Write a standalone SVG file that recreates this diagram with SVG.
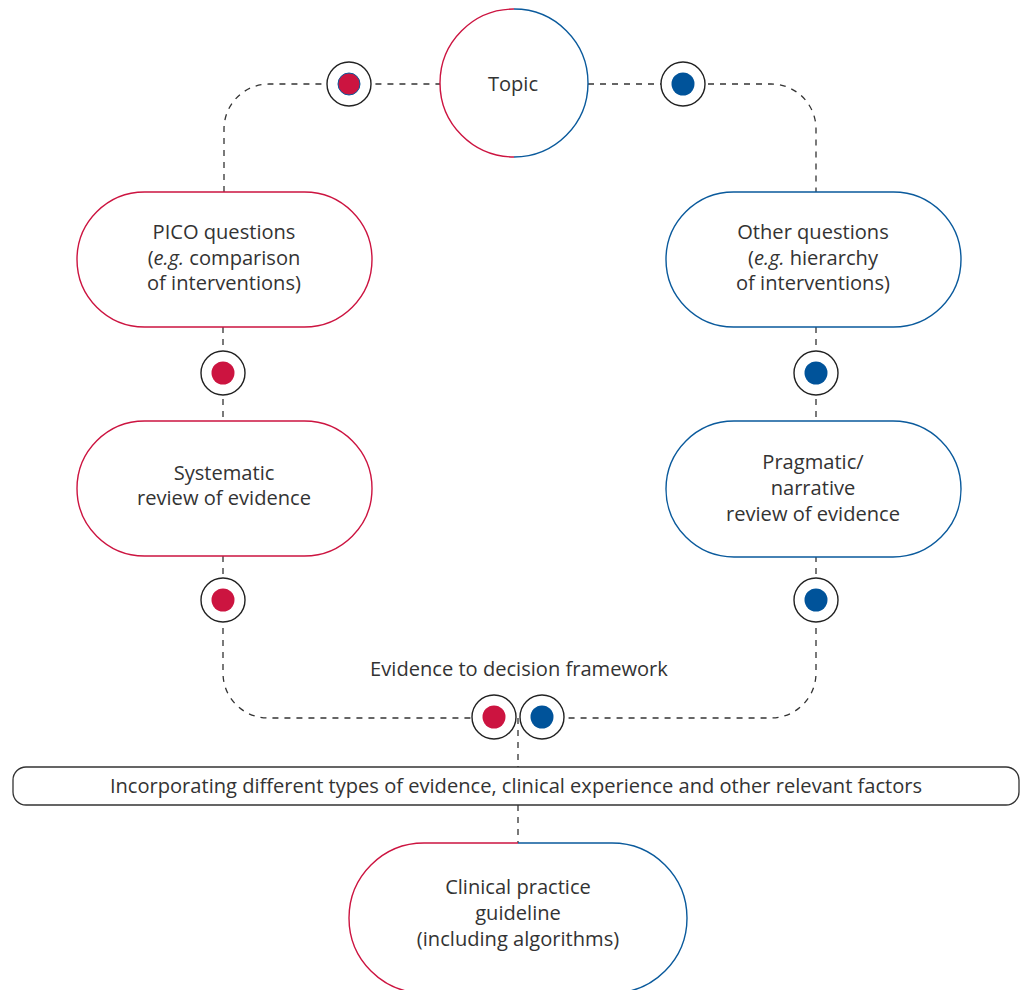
<svg xmlns="http://www.w3.org/2000/svg" width="1025" height="990" viewBox="0 0 1025 990">
<style>
.t{font-family:"Open Sans","Noto Sans","DejaVu Sans",sans-serif;font-size:20.1px;fill:#333;text-anchor:middle}
.dash{fill:none;stroke:#333;stroke-width:1.3;stroke-dasharray:6 6}
.red{fill:#fff;stroke:#cc1440;stroke-width:1.4}
.blue{fill:#fff;stroke:#0a5a9c;stroke-width:1.4}
.ring{fill:#fff;stroke:#222;stroke-width:1.4}
.dr{fill:#cc1440}
.db{fill:#00539a}
</style>
<rect width="1025" height="990" fill="#fff"/>
<g id="connectors">
<path class="dash" d="M224,192 V129 A45,45 0 0 1 269,84 H440"/>
<path class="dash" d="M588,84 H771 A45,45 0 0 1 816,129 V192"/>
<path class="dash" d="M223,327 V421"/>
<path class="dash" d="M816,327 V421"/>
<path class="dash" d="M223,556 V673 A45,45 0 0 0 268,718 H494"/>
<path class="dash" d="M816,556 V673 A45,45 0 0 1 771,718 H542"/>
<path class="dash" d="M518,718 V768"/>
<path class="dash" d="M518,805 V843"/>
</g>
<g id="topic">
<path d="M514,9 A74,74 0 0 0 514,157" fill="#fff" stroke="#cc1440" stroke-width="1.4"/>
<path d="M514,9 A74,74 0 0 1 514,157" fill="#fff" stroke="#0a5a9c" stroke-width="1.4"/>
<text class="t" x="513" y="91">Topic</text>
</g>
<g id="m1"><circle class="ring" cx="349" cy="84" r="22"/><circle class="dr" cx="349" cy="84" r="11" stroke="#0a5a9c" stroke-width="1"/></g>
<g id="m2"><circle class="ring" cx="683" cy="84" r="22"/><circle class="db" cx="683" cy="84" r="11.5"/></g>
<g id="pico">
<rect class="red" x="77" y="192" width="295" height="135" rx="67.5"/>
<text class="t" x="224" y="239">PICO questions</text>
<text class="t" x="224" y="265">(<tspan font-style="italic">e.g.</tspan> comparison</text>
<text class="t" x="224" y="290">of interventions)</text>
</g>
<g id="other">
<rect class="blue" x="666" y="192" width="295" height="135" rx="67.5"/>
<text class="t" x="813" y="239">Other questions</text>
<text class="t" x="813" y="265">(<tspan font-style="italic">e.g.</tspan> hierarchy</text>
<text class="t" x="813" y="290">of interventions)</text>
</g>
<g id="m3"><circle class="ring" cx="223" cy="373" r="22"/><circle class="dr" cx="223" cy="373" r="11.5"/></g>
<g id="m4"><circle class="ring" cx="816" cy="373" r="22"/><circle class="db" cx="816" cy="373" r="11.5"/></g>
<g id="systematic">
<rect class="red" x="77" y="421" width="295" height="135" rx="67.5"/>
<text class="t" x="224" y="480">Systematic</text>
<text class="t" x="224" y="505">review of evidence</text>
</g>
<g id="pragmatic">
<rect class="blue" x="666" y="421" width="295" height="136" rx="68"/>
<text class="t" x="813" y="469">Pragmatic/</text>
<text class="t" x="813" y="495">narrative</text>
<text class="t" x="813" y="521">review of evidence</text>
</g>
<g id="m5"><circle class="ring" cx="223" cy="600" r="22"/><circle class="dr" cx="223" cy="600" r="11.5"/></g>
<g id="m6"><circle class="ring" cx="816" cy="600" r="22"/><circle class="db" cx="816" cy="600" r="11.5"/></g>
<g id="etd-label"><text class="t" x="519" y="676">Evidence to decision framework</text></g>
<g id="m7"><circle class="ring" cx="494" cy="717" r="22"/><circle class="dr" cx="494" cy="717" r="11.5"/></g>
<g id="m8"><circle class="ring" cx="542" cy="717" r="22"/><circle class="db" cx="542" cy="717" r="11.5"/></g>
<g id="bar">
<rect x="13" y="767" width="1006" height="38" rx="13" fill="#fff" stroke="#333" stroke-width="1.3"/>
<text class="t" x="516" y="793">Incorporating different types of evidence, clinical experience and other relevant factors</text>
</g>
<g id="cpg">
<path d="M518,843 H424 A75,75 0 0 0 424,993 H518" fill="#fff" stroke="#cc1440" stroke-width="1.4"/>
<path d="M518,843 H612 A75,75 0 0 1 612,993 H518" fill="#fff" stroke="#0a5a9c" stroke-width="1.4"/>
<text class="t" x="518" y="894">Clinical practice</text>
<text class="t" x="518" y="920">guideline</text>
<text class="t" x="518" y="946">(including algorithms)</text>
</g>
</svg>
